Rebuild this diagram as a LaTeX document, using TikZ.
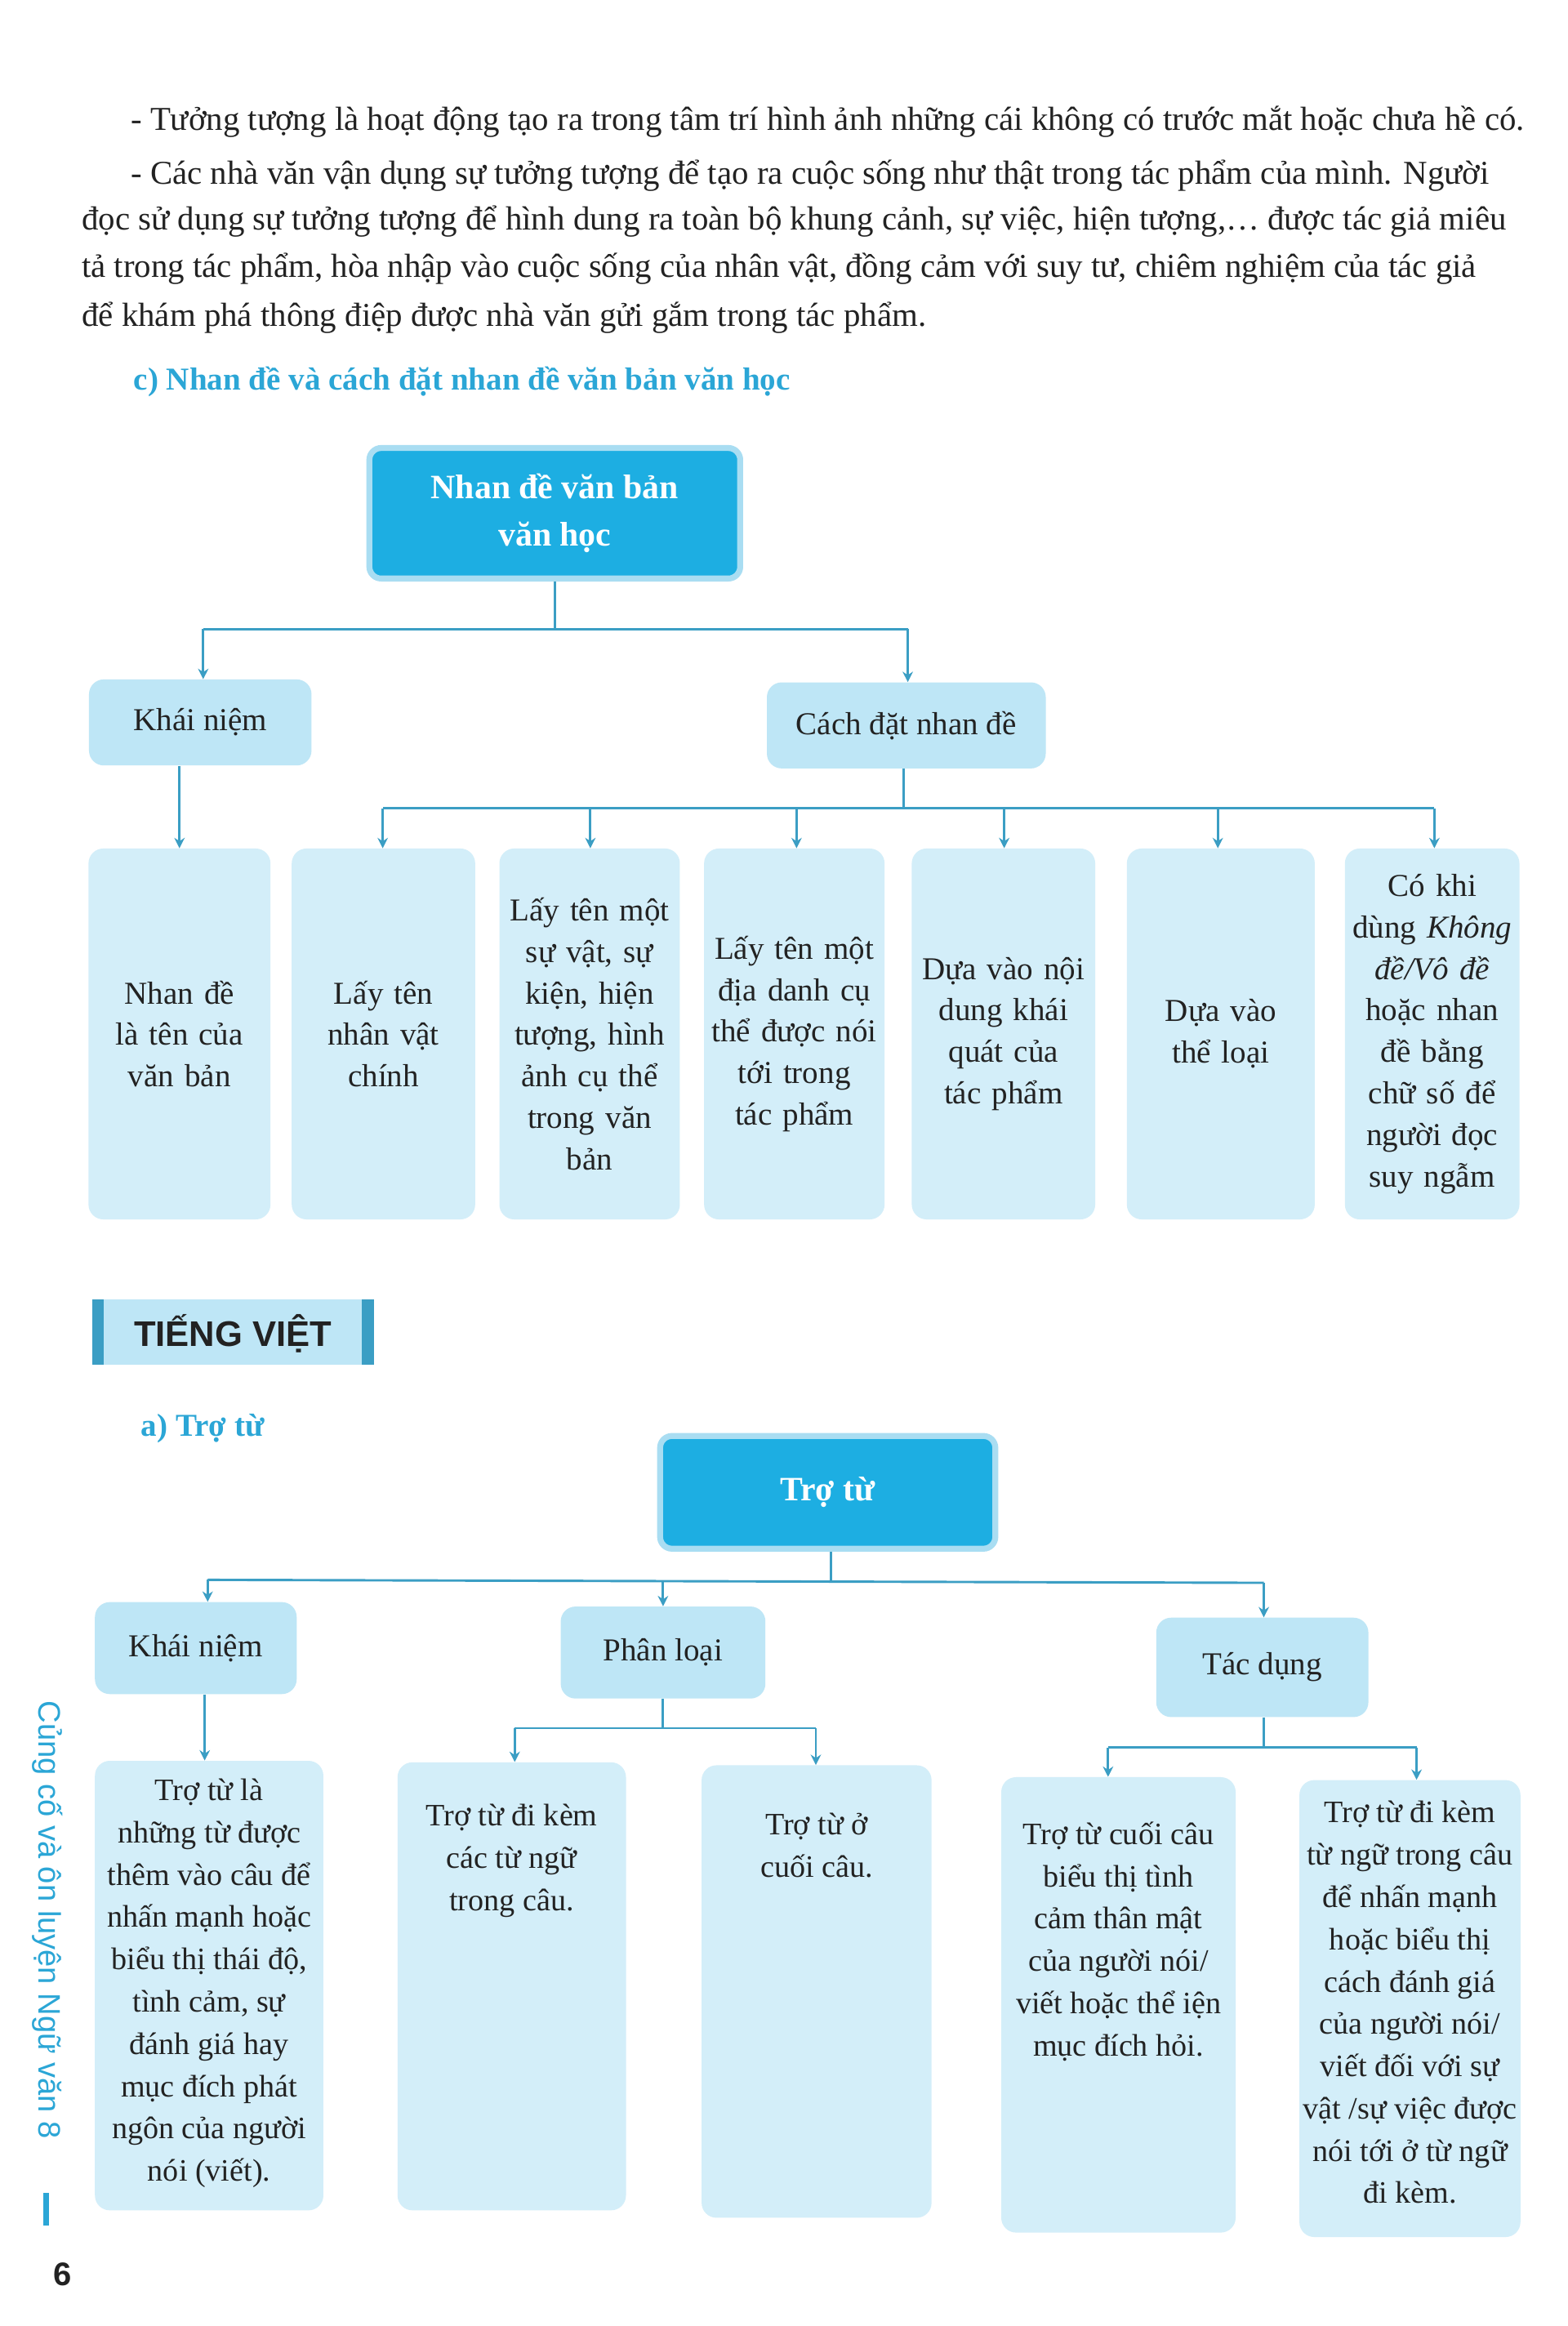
\documentclass[tikz,border=0pt]{standalone}
\usepackage{fontspec}
\usetikzlibrary{arrows.meta}
\setmainfont{Liberation Serif}
\newfontfamily\headsans{Liberation Sans}
\newfontfamily\sidesans{Liberation Sans}
\definecolor{dark}{HTML}{1DAEE2}
\definecolor{darkrim}{HTML}{A9DDF2}
\definecolor{mid}{HTML}{BEE6F6}
\definecolor{pale}{HTML}{D3EEF9}
\definecolor{ln}{HTML}{3B9EC4}
\definecolor{headc}{HTML}{2BA6D6}
\definecolor{txt}{HTML}{222222}
\tikzset{
 body/.style={anchor=base west,font=\fontsize{22.5}{26}\selectfont,text=txt,inner sep=0},
 topbox/.style={draw=darkrim,line width=4pt,fill=dark,rounded corners=8pt,text=white,font=\fontsize{23}{32}\selectfont\bfseries,align=center},
 midbox/.style={fill=mid,rounded corners=10pt,font=\fontsize{21.5}{26}\selectfont,text=txt,align=center},
 leaf/.style={fill=pale,rounded corners=10pt,font=\fontsize{21.5}{28}\selectfont,text=txt,align=center},
 conn/.style={draw=ln,line width=1.6pt},
 arr/.style={conn,-{Stealth[length=7pt,width=7pt]}},
}
\begin{document}
\begin{tikzpicture}[x=1pt,y=-1pt]
\useasboundingbox (0,0) rectangle (1057,1568);
\fill[white] (0,0) rectangle (1057,1568);
% paragraph text
\node[body] (p1) at (88,88) {- Tưởng tượng là hoạt động tạo ra trong tâm trí hình ảnh những cái không có trước mắt hoặc chưa hề có.};
\node[body] (p2) at (88,124) {- Các nhà văn vận dụng sự tưởng tượng để tạo ra cuộc sống như thật trong tác phẩm của mình. Người};
\node[body] (p3) at (55,155) {đọc sử dụng sự tưởng tượng để hình dung ra toàn bộ khung cảnh, sự việc, hiện tượng,… được tác giả miêu};
\node[body] (p4) at (55,187) {tả trong tác phẩm, hòa nhập vào cuộc sống của nhân vật, đồng cảm với suy tư, chiêm nghiệm của tác giả};
\node[body] (p5) at (55,220) {để khám phá thông điệp được nhà văn gửi gắm trong tác phẩm.};
\node[body,text=headc,font=\fontsize{21.5}{26}\selectfont\bfseries] (h1) at (90,263) {c) Nhan đề và cách đặt nhan đề văn bản văn học};
% first tree
\node[topbox,minimum width=250pt,minimum height=88pt] (t1) at (374,346) {Nhan đề văn bản\\văn học};
\node[midbox,minimum width=150pt,minimum height=58pt] (k1) at (135,487) {Khái niệm};
\node[midbox,minimum width=188pt,minimum height=58pt] (c1) at (611,489) {Cách đặt nhan đề};
\draw[conn] (t1.south) -- (374,424) coordinate (j1);
\draw[conn] (137,424) -- (612,424);
\draw[arr] (137,424) -- (k1.north -| 137,0);
\draw[arr] (612,424) -- (c1.north -| 612,0);
\foreach \n/\xa/\xb/\t in {
 a/62/180/{Nhan đề\\là tên của\\văn bản},
 b/199/318/{Lấy tên\\nhân vật\\chính},
 c/339/456/{Lấy tên một\\sự vật, sự\\kiện, hiện\\tượng, hình\\ảnh cụ thể\\trong văn\\bản},
 d/477/594/{Lấy tên một\\địa danh cụ\\thể được nói\\tới trong\\tác phẩm},
 e/617/736/{Dựa vào nội\\dung khái\\quát của\\tác phẩm},
 f/762/884/{Dựa vào\\thể loại},
 g/909/1022/{Có khi\\dùng \textit{Không}\\\textit{đề/Vô đề}\\hoặc nhan\\đề bằng\\chữ số để\\người đọc\\suy ngẫm}}{
 \node[leaf,minimum width={\xb-\xa},minimum height=250pt,text width={\xb-\xa-2}] (L\n) at ({(\xa+\xb)/2},697) {\t};
}
\draw[arr] (k1.south -| 121,0) -- (La.north -| 121,0);
\draw[conn] (c1.south -| 609,0) -- (609,545);
\draw[conn] (258,545) -- (967,545);
\foreach \x/\n in {258/b,398/c,537/d,677/e,821/f,967/g}{\draw[arr] (\x,545) -- (L\n.north -| \x,0);}
% TIENG VIET
\fill[mid] (62,876) rectangle (252,920);
\fill[ln] (62,876) rectangle (70,920);
\fill[ln] (244,876) rectangle (252,920);
\node[font=\headsans\fontsize{24}{26}\selectfont\bfseries,text=txt] (tv) at (157,899) {TIẾNG VIỆT};
\node[body,text=headc,font=\fontsize{21.5}{26}\selectfont\bfseries] (h2) at (95,968) {a) Trợ từ};
% second tree
\node[topbox,minimum width=226pt,minimum height=76pt] (t2) at (558,1006) {Trợ từ};
\node[midbox,minimum width=136pt,minimum height=62pt] (k2) at (132,1111) {Khái niệm};
\node[midbox,minimum width=138pt,minimum height=62pt] (p2b) at (447,1114) {Phân loại};
\node[midbox,minimum width=143pt,minimum height=67pt] (d2) at (851,1124) {Tác dụng};
\draw[conn] (t2.south -| 560,0) -- (560,1066);
\draw[conn] (140,1065) -- (852,1067);
\draw[arr] (140,1065) -- (k2.north -| 140,0);
\draw[arr] (447,1066) -- (p2b.north -| 447,0);
\draw[arr] (852,1067) -- (d2.north -| 852,0);
\foreach \n/\xa/\ya/\xb/\yb/\off/\t in {
 a/64/1187/218/1490/12/{Trợ từ là\\những từ được\\thêm vào câu để\\nhấn mạnh hoặc\\biểu thị thái độ,\\tình cảm, sự\\đánh giá hay\\mục đích phát\\ngôn của người\\nói (viết).},
 b/268/1188/422/1490/28/{Trợ từ đi kèm\\các từ ngữ\\trong câu.},
 c/473/1190/628/1495/32/{Trợ từ ở\\cuối câu.},
 d/675/1198/833/1505/30/{Trợ từ cuối câu\\biểu thị tình\\cảm thân mật\\của người nói/\\viết hoặc thể iện\\mục đích hỏi.},
 e/876/1200/1025/1508/14/{Trợ từ đi kèm\\từ ngữ trong câu\\để nhấn mạnh\\hoặc biểu thị\\cách đánh giá\\của người nói/\\viết đối với sự\\vật /sự việc được\\nói tới ở từ ngữ\\đi kèm.}}{
 \node[leaf,minimum width={\xb-\xa},minimum height={\yb-\ya},inner sep=0] (M\n) at ({(\xa+\xb)/2},{(\ya+\yb)/2}) {};
 \node[anchor=north,align=center,font=\fontsize{21}{28.5}\selectfont,text=txt,inner sep=0] (MT\n) at ({(\xa+\xb)/2},{\ya+\off}) {\t};
}
\draw[arr] (k2.south -| 138,0) -- (Ma.north -| 138,0);
\draw[conn] (p2b.south) -- (447,1165);
\draw[conn] (347,1165) -- (550,1165);
\draw[arr] (347,1165) -- (Mb.north -| 347,0);
\draw[arr] (550,1165) -- (Mc.north -| 550,0);
\draw[conn] (d2.south -| 852,0) -- (852,1178);
\draw[conn] (747,1178) -- (955,1178);
\draw[arr] (747,1178) -- (Md.north -| 747,0);
\draw[arr] (955,1178) -- (Me.north -| 955,0);
% side
\node[rotate=-90,anchor=west,font=\sidesans\fontsize{21}{24}\selectfont,text=headc] (side) at (32,1143) {Củng cố và ôn luyện Ngữ văn 8};
\fill[headc] (29,1478) rectangle (33,1500);
\node[font=\headsans\fontsize{22}{24}\selectfont\bfseries,text=txt] (pg) at (42,1533) {6};
\end{tikzpicture}
\end{document}
